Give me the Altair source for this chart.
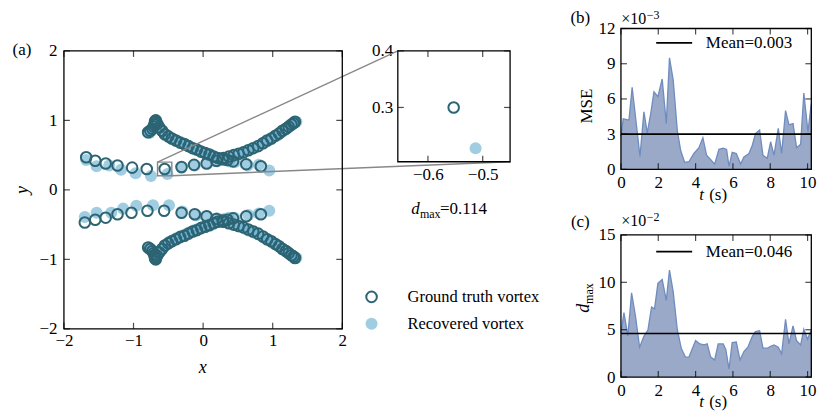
import altair as alt
import pandas as pd

FONT = "Liberation Serif"
GT_COL = "#2d6473"
REC_COL = "#61acce"
AREA_FILL = "#9aa9c7"
AREA_LINE = "#6f8cbf"
GRAY = "#888888"

# ---------------- vortex trajectories ----------------
# upper vortex A, ground truth
gt_ua_x = [-1.68, -1.55, -1.40, -1.23, -1.02, -0.81, -0.553, -0.31, -0.13, 0.05,
           0.19, 0.29, 0.37, 0.44, 0.51, 0.58, 0.65, 0.72, 0.79, 0.86,
           0.92, 0.98, 1.04, 1.09, 1.14, 1.19, 1.23, 1.27, 1.30, 1.32]
gt_ua_y = [0.47, 0.42, 0.38, 0.35, 0.32, 0.30, 0.30, 0.33, 0.36, 0.38,
           0.42, 0.46, 0.48, 0.50, 0.52, 0.54, 0.57, 0.60, 0.63, 0.67,
           0.71, 0.74, 0.78, 0.81, 0.85, 0.88, 0.91, 0.94, 0.96, 0.98]
# upper vortex B, ground truth
gt_ub_x = [-0.79, -0.76, -0.73, -0.71, -0.70, -0.69, -0.69, -0.68, -0.66, -0.63,
           -0.59, -0.55, -0.50, -0.45, -0.39, -0.33, -0.27, -0.21, -0.15, -0.09,
           -0.03, 0.03, 0.09, 0.15, 0.21, 0.28, 0.35, 0.43, 0.62, 0.83]
gt_ub_y = [0.83, 0.85, 0.88, 0.91, 0.94, 0.97, 0.99, 1.00, 0.95, 0.90,
           0.85, 0.80, 0.77, 0.74, 0.71, 0.68, 0.66, 0.63, 0.60, 0.58,
           0.55, 0.53, 0.51, 0.48, 0.46, 0.44, 0.43, 0.41, 0.37, 0.34]
# lower vortex A, ground truth
gt_la_x = [-1.70, -1.55, -1.40, -1.23, -1.03, -0.80, -0.56, -0.31, -0.12, 0.05,
           0.19, 0.29, 0.37, 0.44, 0.51, 0.58, 0.65, 0.72, 0.79, 0.86,
           0.92, 0.98, 1.04, 1.09, 1.14, 1.19, 1.23, 1.27, 1.30, 1.32]
gt_la_y = [-0.47, -0.43, -0.40, -0.35, -0.33, -0.30, -0.30, -0.33, -0.35, -0.38,
           -0.42, -0.46, -0.48, -0.50, -0.52, -0.54, -0.57, -0.60, -0.63, -0.67,
           -0.71, -0.74, -0.78, -0.81, -0.85, -0.88, -0.91, -0.94, -0.96, -0.98]
# lower vortex B, ground truth
gt_lb_x = [-0.79, -0.76, -0.73, -0.71, -0.70, -0.69, -0.69, -0.68, -0.66, -0.63,
           -0.59, -0.55, -0.50, -0.45, -0.39, -0.33, -0.27, -0.21, -0.15, -0.09,
           -0.03, 0.03, 0.09, 0.15, 0.21, 0.28, 0.35, 0.43, 0.62, 0.83]
gt_lb_y = [-0.83, -0.85, -0.88, -0.91, -0.94, -0.97, -0.99, -1.00, -0.95, -0.90,
           -0.85, -0.80, -0.77, -0.74, -0.71, -0.68, -0.66, -0.63, -0.60, -0.58,
           -0.55, -0.53, -0.51, -0.48, -0.46, -0.44, -0.43, -0.41, -0.38, -0.35]

# recovered vortices
rec_ua_x = [-1.68, -1.53, -1.35, -1.18, -0.97, -0.75, -0.513, -0.31, -0.12, 0.06,
            0.20, 0.30, 0.39, 0.46, 0.53, 0.60, 0.67, 0.74, 0.81, 0.88,
            0.94, 1.00, 1.06, 1.11, 1.16, 1.21, 1.25, 1.29, 1.32, 1.34]
rec_ua_y = [0.43, 0.34, 0.35, 0.29, 0.24, 0.20, 0.228, 0.32, 0.35, 0.38,
            0.41, 0.44, 0.47, 0.49, 0.52, 0.55, 0.58, 0.61, 0.64, 0.68,
            0.71, 0.75, 0.78, 0.82, 0.85, 0.89, 0.92, 0.95, 0.97, 0.98]
rec_ub_x = [-0.77, -0.74, -0.71, -0.70, -0.69, -0.68, -0.67, -0.65, -0.62, -0.58,
            -0.54, -0.49, -0.43, -0.37, -0.31, -0.25, -0.19, -0.13, -0.07, -0.01,
            0.05, 0.11, 0.17, 0.23, 0.30, 0.38, 0.46, 0.64, 0.80, 0.95]
rec_ub_y = [0.82, 0.85, 0.89, 0.93, 0.96, 0.98, 0.99, 0.94, 0.89, 0.84,
            0.80, 0.76, 0.73, 0.70, 0.67, 0.65, 0.62, 0.59, 0.57, 0.54,
            0.52, 0.50, 0.47, 0.45, 0.43, 0.41, 0.40, 0.35, 0.36, 0.28]
rec_la_x = [-1.70, -1.53, -1.32, -1.15, -0.96, -0.72, -0.49, -0.30, -0.10, 0.06,
            0.20, 0.30, 0.39, 0.46, 0.53, 0.60, 0.67, 0.74, 0.81, 0.88,
            0.94, 1.00, 1.06, 1.11, 1.16, 1.21, 1.25, 1.29, 1.32, 1.34]
rec_la_y = [-0.39, -0.33, -0.33, -0.27, -0.23, -0.22, -0.22, -0.31, -0.37, -0.38,
            -0.41, -0.45, -0.48, -0.50, -0.53, -0.56, -0.59, -0.62, -0.65, -0.69,
            -0.72, -0.76, -0.79, -0.83, -0.86, -0.90, -0.93, -0.95, -0.97, -0.98]
rec_lb_x = [-0.78, -0.75, -0.72, -0.70, -0.69, -0.68, -0.68, -0.66, -0.62, -0.58,
            -0.54, -0.49, -0.43, -0.37, -0.31, -0.25, -0.19, -0.13, -0.07, -0.01,
            0.05, 0.11, 0.17, 0.23, 0.30, 0.37, 0.45, 0.65, 0.80, 0.95]
rec_lb_y = [-0.83, -0.86, -0.89, -0.92, -0.95, -0.97, -0.99, -0.94, -0.89, -0.84,
            -0.79, -0.75, -0.72, -0.69, -0.66, -0.64, -0.61, -0.58, -0.56, -0.53,
            -0.51, -0.49, -0.46, -0.44, -0.42, -0.40, -0.40, -0.36, -0.34, -0.30]

# ---------------- time series ----------------
t_mse = [0.0, 0.12, 0.43, 0.60, 1.02, 1.23, 1.41, 1.60, 1.77, 1.98,
         2.21, 2.43, 2.60, 2.80, 3.02, 3.20, 3.41, 3.64, 3.91, 4.18,
         4.39, 4.59, 4.80, 5.02, 5.25, 5.48, 5.66, 5.79, 5.96, 6.18,
         6.41, 6.59, 6.86, 7.04, 7.21, 7.43, 7.61, 7.84, 8.02, 8.20,
         8.43, 8.61, 8.82, 9.00, 9.22, 9.41, 9.63, 9.80, 10.02, 10.2]
mse_e3 = [2.8, 4.3, 4.2, 7.0, 1.1, 4.9, 3.1, 4.8, 6.6, 6.2,
          7.7, 3.9, 9.5, 7.6, 3.3, 1.6, 0.6, 0.65, 1.35, 1.85,
          2.7, 1.2, 0.85, 0.45, 1.7, 1.8, 1.7, 0.25, 1.45, 1.35,
          0.45, 1.05, 1.35, 2.05, 3.05, 3.35, 1.2, 0.95, 2.35, 1.2,
          3.5, 1.35, 5.0, 3.8, 3.9, 1.85, 2.15, 6.5, 3.2, 5.6]
mse_mean_e3 = 3.0

t_dmax = [0.0, 0.16, 0.37, 0.57, 0.78, 1.00, 1.23, 1.45, 1.64, 1.80,
          1.98, 2.21, 2.43, 2.60, 2.80, 3.02, 3.23, 3.46, 3.64, 4.00,
          4.23, 4.45, 4.62, 4.80, 5.02, 5.21, 5.48, 5.62, 5.79, 5.96,
          6.18, 6.38, 6.59, 6.80, 7.04, 7.21, 7.43, 7.61, 7.84, 8.02,
          8.20, 8.43, 8.61, 8.82, 9.00, 9.22, 9.41, 9.63, 9.80, 10.00, 10.2]
dmax_e2 = [4.6, 6.8, 4.35, 8.9, 6.4, 3.15, 4.3, 5.0, 7.4, 7.2,
           9.9, 10.3, 8.1, 11.3, 9.0, 5.0, 3.05, 2.1, 2.1, 3.85,
           3.5, 3.4, 3.5, 2.15, 1.8, 3.5, 3.5, 2.9, 0.85, 3.65,
           3.7, 1.8, 2.7, 3.15, 4.3, 4.8, 4.9, 3.05, 3.05, 3.25,
           3.4, 3.15, 2.45, 6.1, 3.5, 5.4, 3.85, 3.4, 5.05, 4.0, 5.0]
dmax_mean_e2 = 4.6

# ---------------- axes definitions ----------------
main_dom = [-2, 2]
main_ticks = [-2, -1, 0, 1, 2]
inset_xdom = [-0.655, -0.45]
inset_ydom = [0.204, 0.4]
inset_xticks = [-0.6, -0.5]
inset_yticks = [0.3, 0.4]
t_dom = [0, 10.2]
t_ticks = [0, 2, 4, 6, 8, 10]
mse_dom = [0, 12]
mse_ticks = [0, 3, 6, 9, 12]
dmax_dom = [0, 15]
dmax_ticks = [0, 5, 10, 15]

# ---------------- layout (pixels inside the view) ----------------
W, H = 749, 350
MAIN_XR = [0, 278.7]
MAIN_YR = [301, 22.7]
INS_XR = [334.3, 446.7]
INS_YR = [133.7, 22.7]
B_XR = [557.7, 748.3]
B_YR = [141.3, 0.3]
C_XR = [557.7, 748.3]
C_YR = [349.3, 207.0]
TICK = 6

AX = dict(title=None, ticks=False, tickSize=0, domain=False, grid=False,
          labelFont=FONT, labelFontSize=17, labelColor="black",
          labelOverlap=False, labelFlush=False)


def frame(xdom, ydom, xr, yr, xticks, yticks, xfmt, yfmt, xpad, ypad):
    xs = alt.Scale(domain=xdom, range=xr, nice=False, zero=False)
    ys = alt.Scale(domain=ydom, range=yr, nice=False, zero=False)
    xax = alt.Axis(orient="bottom", offset=-(H - yr[0]), values=xticks,
                   format=xfmt, labelPadding=xpad, **AX)
    yax = alt.Axis(orient="left", offset=-xr[0], values=yticks,
                   format=yfmt, labelPadding=ypad, **AX)

    def X(f):
        return alt.X(f, scale=xs, axis=xax)

    def Y(f):
        return alt.Y(f, scale=ys, axis=yax)

    border_df = pd.DataFrame({"x": [xdom[0]], "x2": [xdom[1]],
                              "y": [ydom[0]], "y2": [ydom[1]]})
    border = alt.Chart(border_df).mark_rect(
        fill="white", fillOpacity=0, stroke="black", strokeWidth=1.3
    ).encode(x=X("x:Q"), x2="x2", y=Y("y:Q"), y2="y2")

    bot = pd.DataFrame({"x": xticks, "y": [ydom[0]] * len(xticks)})
    top = pd.DataFrame({"x": xticks, "y": [ydom[1]] * len(xticks)})
    lef = pd.DataFrame({"x": [xdom[0]] * len(yticks), "y": yticks})
    rig = pd.DataFrame({"x": [xdom[1]] * len(yticks), "y": yticks})
    tk = dict(size=TICK, thickness=1.2, color="black")
    ticks = [
        alt.Chart(bot).mark_tick(orient="vertical", yOffset=-TICK / 2, **tk).encode(x=X("x:Q"), y=Y("y:Q")),
        alt.Chart(top).mark_tick(orient="vertical", yOffset=TICK / 2, **tk).encode(x=X("x:Q"), y=Y("y:Q")),
        alt.Chart(lef).mark_tick(orient="horizontal", xOffset=TICK / 2, **tk).encode(x=X("x:Q"), y=Y("y:Q")),
        alt.Chart(rig).mark_tick(orient="horizontal", xOffset=-TICK / 2, **tk).encode(x=X("x:Q"), y=Y("y:Q")),
    ]
    return X, Y, border, ticks


def pts(xs_list, ys_list):
    return pd.DataFrame({"x": xs_list, "y": ys_list})


gt_df = pd.concat([pts(gt_ua_x, gt_ua_y), pts(gt_ub_x, gt_ub_y),
                   pts(gt_la_x, gt_la_y), pts(gt_lb_x, gt_lb_y)], ignore_index=True)
rec_df = pd.concat([pts(rec_ua_x, rec_ua_y), pts(rec_ub_x, rec_ub_y),
                    pts(rec_la_x, rec_la_y), pts(rec_lb_x, rec_lb_y)], ignore_index=True)

GT_MARK = dict(shape="circle", filled=False, size=112, strokeWidth=2.0, color=GT_COL, opacity=1)
REC_MARK = dict(shape="circle", filled=True, size=145, color=REC_COL, opacity=0.6, strokeWidth=0)

# ---------------- (a) main panel ----------------
X, Y, border, ticks = frame(main_dom, main_dom, MAIN_XR, MAIN_YR, main_ticks, main_ticks, "d", "d", 4, 7)
rec_main = alt.Chart(rec_df).mark_point(**REC_MARK).encode(x=X("x:Q"), y=Y("y:Q"))
gt_main = alt.Chart(gt_df).mark_point(**GT_MARK).encode(x=X("x:Q"), y=Y("y:Q"))
zoom_df = pd.DataFrame({"x": [inset_xdom[0]], "x2": [inset_xdom[1]],
                        "y": [inset_ydom[0]], "y2": [inset_ydom[1]]})
zoom_box = alt.Chart(zoom_df).mark_rect(fill="white", fillOpacity=0, stroke=GRAY,
                                        strokeWidth=1.4).encode(x=X("x:Q"), x2="x2", y=Y("y:Q"), y2="y2")


def px_to_main(px, py):
    x = main_dom[0] + (px - MAIN_XR[0]) / (MAIN_XR[1] - MAIN_XR[0]) * (main_dom[1] - main_dom[0])
    y = main_dom[0] + (py - MAIN_YR[0]) / (MAIN_YR[1] - MAIN_YR[0]) * (main_dom[1] - main_dom[0])
    return x, y


c1 = px_to_main(INS_XR[0], INS_YR[1])
c2 = px_to_main(INS_XR[1], INS_YR[0])
conn_df = pd.DataFrame({"x": [inset_xdom[0], inset_xdom[1]], "y": [inset_ydom[1], inset_ydom[0]],
                        "x2": [c1[0], c2[0]], "y2": [c1[1], c2[1]]})
connectors = alt.Chart(conn_df).mark_rule(color=GRAY, strokeWidth=1.4).encode(
    x=X("x:Q"), y=Y("y:Q"), x2="x2", y2="y2")
main_panel = alt.layer(rec_main, gt_main, zoom_box, connectors, border, *ticks)

# ---------------- inset ----------------
X, Y, border, ticks = frame(inset_xdom, inset_ydom, INS_XR, INS_YR, inset_xticks, inset_yticks,
                            ".1f", ".1f", 5, 5)
in_filter = (f"datum.x >= {inset_xdom[0]} && datum.x <= {inset_xdom[1]} && "
             f"datum.y >= {inset_ydom[0]} && datum.y <= {inset_ydom[1]}")
rec_in = alt.Chart(rec_df).mark_point(**REC_MARK).encode(x=X("x:Q"), y=Y("y:Q")).transform_filter(in_filter)
gt_in = alt.Chart(gt_df).mark_point(**GT_MARK).encode(x=X("x:Q"), y=Y("y:Q")).transform_filter(in_filter)
inset_panel = alt.layer(rec_in, gt_in, border, *ticks)


# ---------------- (b) and (c) ----------------
def series_panel(tl, vl, mean, ydom, yticks, yr):
    X, Y, border, ticks = frame(t_dom, ydom, B_XR, yr, t_ticks, yticks, "d", "d", 5, 6)
    df = pd.DataFrame({"t": tl, "v": vl, "base": [0] * len(tl)})
    area = alt.Chart(df).mark_area(color=AREA_FILL, opacity=1).encode(x=X("t:Q"), y=Y("v:Q"), y2="base")
    line = alt.Chart(df).mark_line(color=AREA_LINE, strokeWidth=1.3).encode(x=X("t:Q"), y=Y("v:Q"))
    mdf = pd.DataFrame({"x": [t_dom[0]], "x2": [t_dom[1]], "y": [mean]})
    mrule = alt.Chart(mdf).mark_rule(color="black", strokeWidth=1.6).encode(x=X("x:Q"), x2="x2", y=Y("y:Q"))
    return alt.layer(area, line, mrule, border, *ticks)


b_panel = series_panel(t_mse, mse_e3, mse_mean_e3, mse_dom, mse_ticks, B_YR)
c_panel = series_panel(t_dmax, dmax_e2, dmax_mean_e2, dmax_dom, dmax_ticks, C_YR)

# ---------------- annotations ----------------
_one = pd.DataFrame({"k": [0]})


def label(text, x, y, size=17, style="normal", align="left", baseline="alphabetic", angle=0):
    return alt.Chart(_one).mark_text(text=text, font=FONT, fontSize=size, fontStyle=style,
                                     align=align, baseline=baseline, angle=angle,
                                     color="black").encode(x=alt.value(x), y=alt.value(y))


annots = [
    label("(a)", -42, 22, 17, align="center", baseline="middle"),
    label("y", -41, 162, 18, style="italic", align="center", baseline="middle", angle=270),
    label("x", 139, 340, 18, style="italic", align="center", baseline="middle"),
    label("d", 347.7, 186, 17, style="italic"),
    label("max", 356.5, 190, 12),
    label("=0.114", 376.5, 186, 17),
    label("Ground truth vortex", 344, 269, 16.5, baseline="middle"),
    label("Recovered vortex", 344, 296, 16.5, baseline="middle"),
    # (b)
    label("(b)", 517, -10, 17, align="center", baseline="middle"),
    label("×10", 558, -9.5, 16, baseline="middle"),
    label("−3", 583.5, -13, 12, baseline="middle"),
    label("MSE", 523.5, 78, 17, align="center", baseline="middle", angle=270),
    label("Mean=0.003", 642.7, 14.7, 17, baseline="middle"),
    label("t", 636, 172, 17, style="italic"),
    label("(s)", 646, 172, 17),
    # (c)
    label("(c)", 517, 194, 17, align="center", baseline="middle"),
    label("×10", 558, 193.5, 16, baseline="middle"),
    label("−2", 583.5, 189.5, 12, baseline="middle"),
    label("d", 521, 285, 18, style="italic", baseline="middle", angle=270),
    label("max", 525.5, 276, 12, baseline="middle", angle=270),
    label("Mean=0.046", 642.7, 223.7, 17, baseline="middle"),
    label("t", 636, 379.5, 17, style="italic"),
    label("(s)", 646, 379.5, 17),
]

legend_marks = [
    alt.Chart(_one).mark_point(**GT_MARK).encode(x=alt.value(308), y=alt.value(269)),
    alt.Chart(_one).mark_point(**REC_MARK).encode(x=alt.value(308), y=alt.value(296)),
    alt.Chart(_one).mark_rule(color="black", strokeWidth=1.6).encode(
        x=alt.value(593), x2=alt.value(629), y=alt.value(14.7)),
    alt.Chart(_one).mark_rule(color="black", strokeWidth=1.6).encode(
        x=alt.value(593), x2=alt.value(629), y=alt.value(223.7)),
]

chart = alt.layer(main_panel, inset_panel, b_panel, c_panel, *legend_marks, *annots).resolve_scale(
    x="independent", y="independent"
).resolve_axis(
    x="independent", y="independent"
).properties(
    width=W, height=H,
    autosize=alt.AutoSizeParams(type="none"),
    padding={"left": 56, "top": 20, "right": 10, "bottom": 34},
    background="white",
).configure_view(strokeWidth=0)

chart.save("out.html", embed_options={"renderer": "svg", "actions": False})
